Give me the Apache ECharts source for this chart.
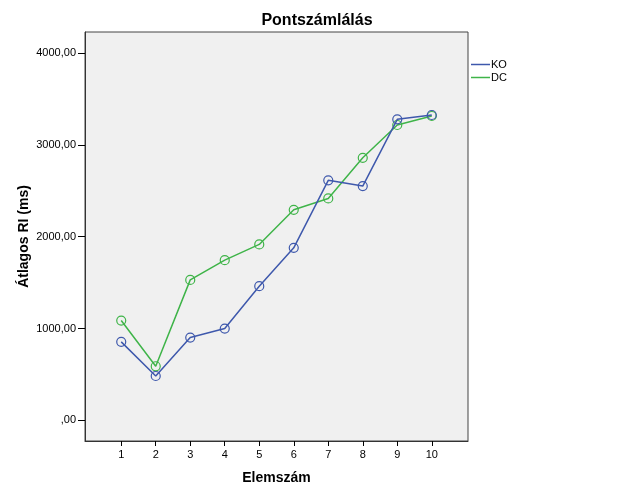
<!DOCTYPE html>
<html lang="hu">
<head>
<meta charset="UTF-8">
<title>Pontszámlálás</title>
<script src="https://cdn.jsdelivr.net/npm/echarts@6/dist/echarts.min.js"></script>
<style>
  html, body { margin: 0; padding: 0; background: #fff; }
  #chart { width: 626px; height: 501px; }
</style>
</head>
<body>
<div id="chart"></div>
<script>
// Elemszám 1..10
var elemszam = [1, 2, 3, 4, 5, 6, 7, 8, 9, 10];
var koValues = [855, 483, 902, 1000, 1461, 1879, 2614, 2552, 3279, 3326];
var dcValues = [1087, 589, 1530, 1745, 1916, 2293, 2417, 2860, 3217, 3315];
var yTicks = [0, 1000, 2000, 3000, 4000];

var koColor = '#3e58ac';
var dcColor = '#3fb449';

function pairs(xs, ys) {
  return xs.map(function (x, i) { return [x, ys[i]]; });
}

function fmtHu(v) {
  // SPSS style: 4000,00 and ,00 for zero
  if (v === 0) return ',00';
  return v.toFixed(2).replace('.', ',');
}

var font = 'Liberation Sans, Arial, sans-serif';

var chart = echarts.init(document.getElementById('chart'));
var option = {
  animation: false,
  title: {
    text: 'Pontszámlálás',
    left: 312, top: 8, textAlign: 'center',
    textStyle: { fontFamily: font, fontSize: 16, fontWeight: 'bold', color: '#000' }
  },
  legend: {
    orient: 'vertical',
    left: 466, top: 54,
    itemWidth: 19, itemHeight: 1.5, itemGap: 2,
    icon: 'rect',
    textStyle: { fontFamily: font, fontSize: 11, color: '#000', padding: [0, 0, 0, -4] },
    data: [
      { name: 'KO', itemStyle: { color: koColor, borderWidth: 0 } },
      { name: 'DC', itemStyle: { color: dcColor, borderWidth: 0 } }
    ]
  },
  grid: {
    left: 85, right: 158, top: 32, bottom: 60,
    show: true, backgroundColor: '#f0f0f0',
    borderColor: '#444', borderWidth: 1
  },
  xAxis: {
    type: 'value',
    min: -0.05, max: 11.05,
    name: 'Elemszám', nameLocation: 'middle', nameGap: 30,
    nameTextStyle: { fontFamily: font, fontSize: 14, fontWeight: 'bold', color: '#000' },
    axisLine: { show: true, onZero: false, lineStyle: { color: '#333', width: 1 } },
    axisTick: { show: true, length: 5, customValues: elemszam, lineStyle: { color: '#000', width: 1 } },
    axisLabel: { customValues: elemszam, fontFamily: font, fontSize: 11, color: '#000', margin: 8 },
    splitLine: { show: false }
  },
  yAxis: {
    type: 'value',
    min: -225, max: 4230,
    name: 'Átlagos RI (ms)', nameLocation: 'middle', nameGap: 54,
    nameMoveOverlap: false,
    nameTextStyle: { fontFamily: font, fontSize: 14, fontWeight: 'bold', color: '#000' },
    axisLine: { show: true, onZero: false, lineStyle: { color: '#333', width: 1 } },
    axisTick: { show: true, length: 7, customValues: yTicks, lineStyle: { color: '#000', width: 1 } },
    axisLabel: { customValues: yTicks, formatter: fmtHu, fontFamily: font, fontSize: 11, color: '#000', margin: 9 },
    splitLine: { show: false }
  },
  series: [
    {
      name: 'KO', type: 'line',
      data: pairs(elemszam, koValues),
      symbol: 'circle', symbolSize: 9,
      lineStyle: { color: koColor, width: 1.5 },
      itemStyle: { color: 'rgba(0,0,0,0)', borderColor: koColor, borderWidth: 1.2 },
      z: 3
    },
    {
      name: 'DC', type: 'line',
      data: pairs(elemszam, dcValues),
      symbol: 'circle', symbolSize: 9,
      lineStyle: { color: dcColor, width: 1.5 },
      itemStyle: { color: 'rgba(0,0,0,0)', borderColor: dcColor, borderWidth: 1.2 },
      z: 2
    }
  ]
};
chart.setOption(option);
</script>
</body>
</html>
